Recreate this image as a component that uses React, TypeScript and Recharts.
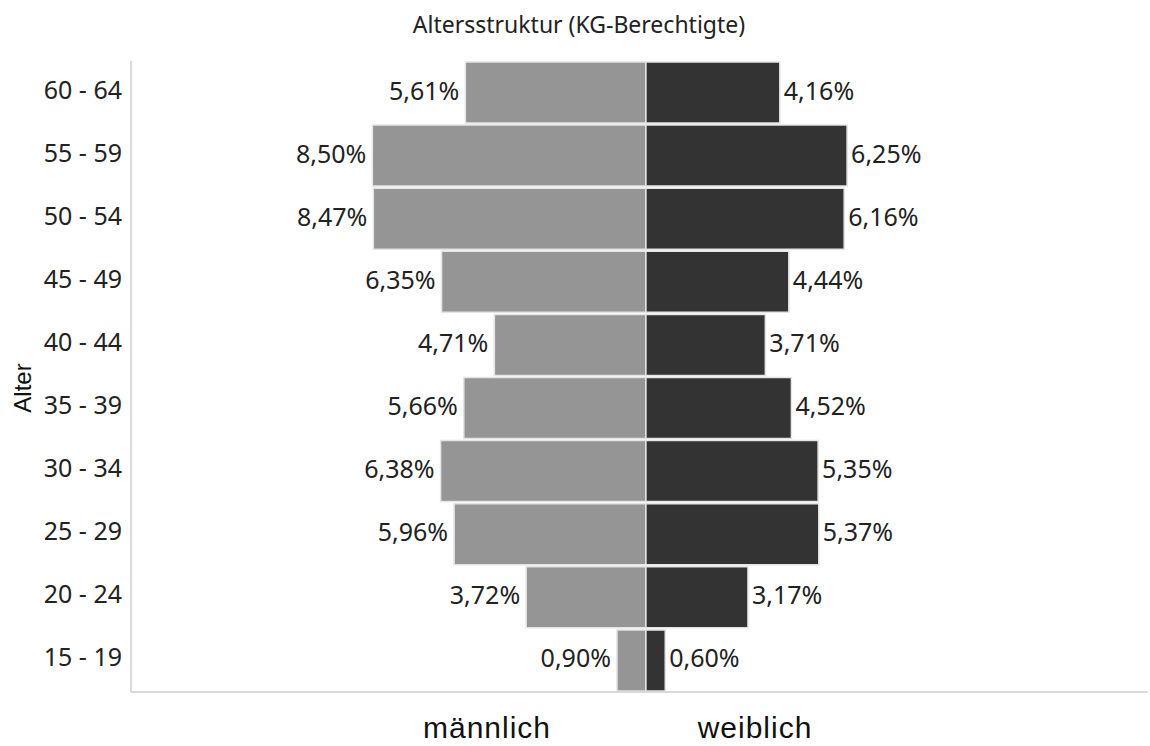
import { BarChart, Bar, XAxis, YAxis, LabelList } from "recharts";

// Altersgruppen von oben nach unten
const ageGroups = [
  "60 - 64",
  "55 - 59",
  "50 - 54",
  "45 - 49",
  "40 - 44",
  "35 - 39",
  "30 - 34",
  "25 - 29",
  "20 - 24",
  "15 - 19",
];
const maleShare = [5.61, 8.5, 8.47, 6.35, 4.71, 5.66, 6.38, 5.96, 3.72, 0.9];
const femaleShare = [4.16, 6.25, 6.16, 4.44, 3.71, 4.52, 5.35, 5.37, 3.17, 0.6];

// male values go negative so they stack to the left of zero
const chartData = ageGroups.map((age, i) => ({
  age,
  male: -maleShare[i],
  female: femaleShare[i],
}));

const fmt = (v: number) => Math.abs(v).toFixed(2).replace(".", ",") + "%";

const labelFont = { fontFamily: "'Noto Sans', sans-serif", fontSize: 25, fill: "#222" };

const MaleLabel = (props: any) => {
  const vb = props.viewBox || props;
  const { x, y, width, height } = vb;
  const left = Math.min(x, x + width);
  return (
    <text x={left - 6} y={y + height / 2 - 3} textAnchor="end" dominantBaseline="central" {...labelFont}>
      {fmt(props.value)}
    </text>
  );
};

const FemaleLabel = (props: any) => {
  const vb = props.viewBox || props;
  const { x, y, width, height } = vb;
  const right = Math.max(x, x + width);
  return (
    <text x={right + 4} y={y + height / 2 - 3} textAnchor="start" dominantBaseline="central" {...labelFont}>
      {fmt(props.value)}
    </text>
  );
};

const AgeTick = (props: any) => (
  <text x={props.x - 1} y={props.y - 4} textAnchor="end" dominantBaseline="central" {...labelFont}>
    {props.payload.value}
  </text>
);

export default function App() {
  return (
    <div style={{ position: "absolute", left: 0, top: 0, width: 1150, height: 746, background: "#fff" }}>
      {/* Titel */}
      <div
        style={{
          position: "absolute",
          left: 0,
          width: 1158,
          top: 8,
          textAlign: "center",
          fontFamily: "'Noto Sans', sans-serif",
          fontSize: 23,
          color: "#222",
        }}
      >
        Altersstruktur (KG-Berechtigte)
      </div>

      {/* Achsentitel */}
      <div
        style={{
          position: "absolute",
          left: 23,
          top: 388,
          transform: "translate(-50%, -50%) rotate(-90deg)",
          fontFamily: "'Liberation Sans', Arial, sans-serif",
          fontSize: 24,
          color: "#111",
          whiteSpace: "nowrap",
        }}
      >
        Alter
      </div>

      <BarChart
        width={1150}
        height={746}
        data={chartData}
        layout="vertical"
        stackOffset="sign"
        barCategoryGap={1}
        margin={{ top: 61, right: 2, bottom: 50, left: 0 }}
      >
        <XAxis
          type="number"
          domain={[-16, 15.6]}
          allowDataOverflow
          height={4}
          tick={false}
          tickLine={false}
          axisLine={{ stroke: "#cfcfcf", strokeWidth: 1.5 }}
        />
        <YAxis
          type="category"
          dataKey="age"
          width={131}
          tickLine={false}
          axisLine={{ stroke: "#cfcfcf", strokeWidth: 1.5 }}
          tick={<AgeTick />}
          interval={0}
        />
        <Bar dataKey="male" stackId="a" fill="#959595" stroke="#e4e4e4" strokeWidth={1.5} isAnimationActive={false}>
          <LabelList dataKey="male" content={<MaleLabel />} />
        </Bar>
        <Bar dataKey="female" stackId="a" fill="#333333" stroke="#e4e4e4" strokeWidth={1.5} isAnimationActive={false}>
          <LabelList dataKey="female" content={<FemaleLabel />} />
        </Bar>
      </BarChart>

      {/* Legende unten */}
      <div
        style={{
          position: "absolute",
          left: 387,
          width: 200,
          top: 711,
          textAlign: "center",
          fontFamily: "'Liberation Sans', Arial, sans-serif",
          fontSize: 30,
          letterSpacing: 1,
          color: "#111",
        }}
      >
        männlich
      </div>
      <div
        style={{
          position: "absolute",
          left: 655,
          width: 200,
          top: 711,
          textAlign: "center",
          fontFamily: "'Liberation Sans', Arial, sans-serif",
          fontSize: 30,
          letterSpacing: 1,
          color: "#111",
        }}
      >
        weiblich
      </div>
    </div>
  );
}
